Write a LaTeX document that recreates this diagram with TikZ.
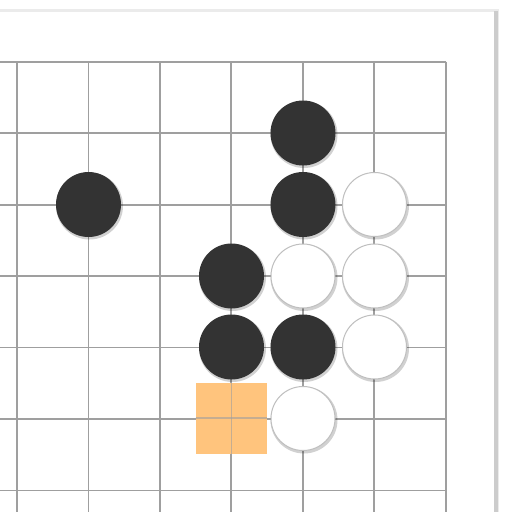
\documentclass[tikz,border=0pt]{standalone}
\begin{document}
\begin{tikzpicture}[x=1pt,y=-1pt,
  gridline/.style={draw=gray!75,line width=1.8pt},
  blackstone/.style={circle,fill=black!80,minimum size=65pt,inner sep=0pt},
  whitestone/.style={circle,fill=white,draw=black!25,line width=1pt,minimum size=64pt,inner sep=0pt},
  stoneshadow/.style={circle,fill=black,opacity=0.18,minimum size=67pt,inner sep=0pt},
  marker/.style={fill={rgb,255:red,255;green,196;blue,125},minimum size=71.5pt,inner sep=0pt}]
\useasboundingbox (0,0) rectangle (512,512);
\fill[white] (0,0) rectangle (512,512);
% board with shadow
\fill[black!8] (0,9) rectangle (499,512);
\fill[black!20] (494,11) rectangle (498,512);
\fill[white] (0,12) rectangle (494,512);
% grid
\foreach \i in {0,...,6} {
  \pgfmathsetmacro{\gx}{17+71.45*\i}
  \pgfmathsetmacro{\gy}{61.7+71.45*\i}
  \draw[gridline] (\gx,61.7) -- (\gx,512);
  \draw[gridline] (0,\gy) -- (445.7,\gy);
}
% marker
\node[marker] (m) at (231.5,418.3) {};
\draw[gridline,opacity=0.6] (m.north) -- (m.south);
\draw[gridline,opacity=0.6] (m.west) -- (m.east);
% shadows
\foreach \px/\py in {88.5/204.5,303/133,303/204.5,231.5/276,231.5/347,303/347,374.5/204.5,303/276,374.5/276,374.5/347,303/418.5}
  \node[stoneshadow] at (\px+1,\py+1.5) {};
% black stones
\node[blackstone] (b1) at (88.5,204.5) {};
\node[blackstone] (b2) at (303,133) {};
\node[blackstone] (b3) at (303,204.5) {};
\node[blackstone] (b4) at (231.5,276) {};
\node[blackstone] (b5) at (231.5,347) {};
\node[blackstone] (b6) at (303,347) {};
% white stones
\node[whitestone] (w1) at (374.5,204.5) {};
\node[whitestone] (w2) at (303,276) {};
\node[whitestone] (w3) at (374.5,276) {};
\node[whitestone] (w4) at (374.5,347) {};
\node[whitestone] (w5) at (303,418.5) {};
\end{tikzpicture}
\end{document}
